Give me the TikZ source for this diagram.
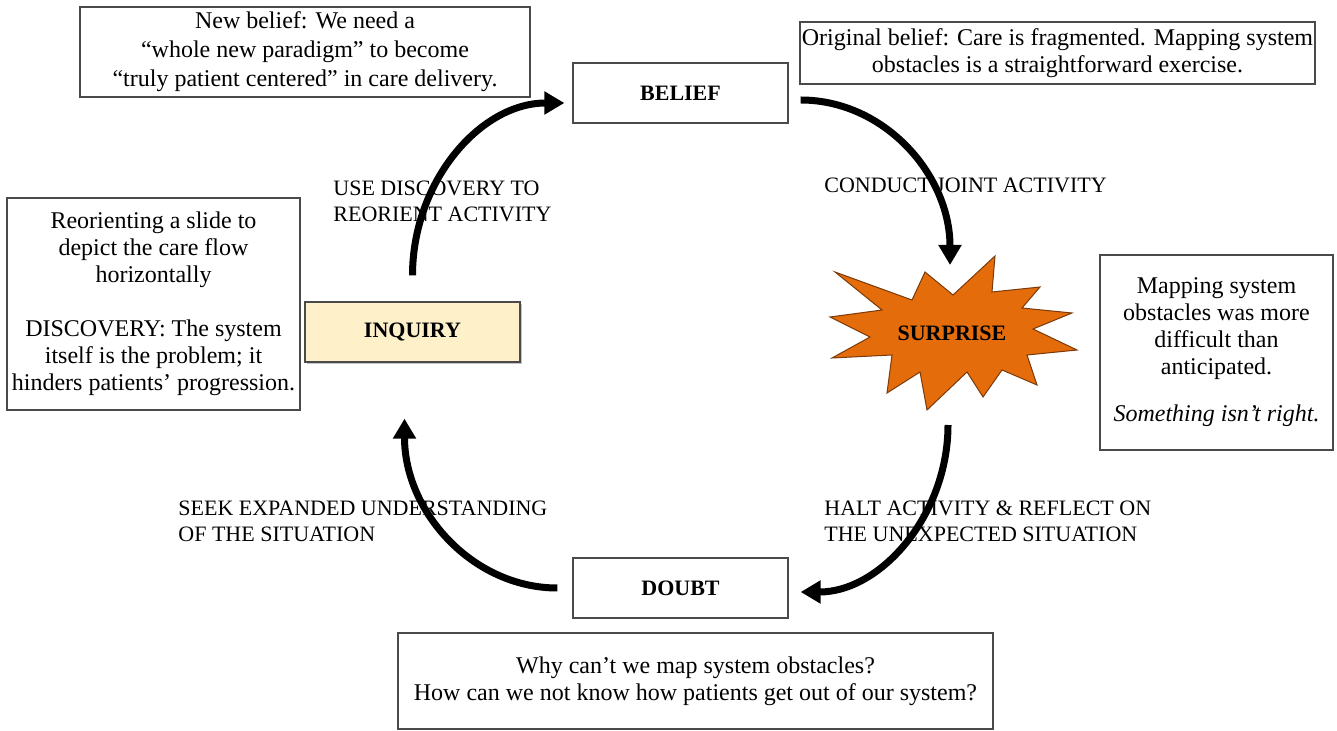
\documentclass[tikz,border=0pt]{standalone}
\usepackage{fontspec}
\setmainfont{Liberation Serif}
\usetikzlibrary{arrows.meta,shadows}
\definecolor{starorange}{HTML}{E46C0A}
\definecolor{starline}{HTML}{7A3A0A}
\definecolor{inqfill}{HTML}{FEF0C9}
\definecolor{boxline}{HTML}{4A4A4A}
\begin{document}
\begin{tikzpicture}[x=0.5pt,y=-0.5pt,
  note/.style={draw=boxline, line width=0.6pt, fill=white, inner sep=0pt,
    align=center, font=\fontsize{12}{13.5}\selectfont},
  stage/.style={draw=boxline, line width=0.6pt, fill=white, minimum width=107.5pt,
    minimum height=30pt, inner sep=0pt, font=\fontsize{11}{13}\selectfont\bfseries},
  steplabel/.style={anchor=west, align=left, inner sep=0pt,
    font=\fontsize{11}{13}\selectfont},
  flow/.style={line width=3.5pt, -{Triangle[length=10pt,width=11pt]}}
]
\useasboundingbox (0,0) rectangle (1337,731);

% explanatory boxes
\node[note, minimum width=225pt, minimum height=45pt, font=\fontsize{12}{14.5}\selectfont] (newbelief) at (305,52)
  {New belief: We need a\\“whole new paradigm” to become\\“truly patient centered” in care delivery.};
\node[note, minimum width=257.5pt, minimum height=31pt] (origbelief) at (1057.5,53)
  {Original belief: Care is fragmented. Mapping system\\obstacles is a straightforward exercise.};
\node[note, minimum width=146.5pt, minimum height=106pt] (discovery) at (153.5,304)
  {Reorienting a slide to\\depict the care flow\\horizontally\\[13.5pt]DISCOVERY: The system\\itself is the problem; it\\hinders patients’ progression.};
\node[note, minimum width=116.5pt, minimum height=97.5pt] (unexpected) at (1216.5,352.5)
  {Mapping system\\obstacles was more\\difficult than\\anticipated.\\[10pt]\textit{Something isn’t right.}};
\node[note, minimum width=297.5pt, minimum height=48pt] (questions) at (695.5,681)
  {Why can’t we map system obstacles?\\How can we not know how patients get out of our system?};

% stages of the cycle
\node[stage] (belief) at (680.5,93) {BELIEF};
\node[stage] (doubt) at (680.5,588) {DOUBT};
\node[stage, fill=inqfill,
  drop shadow={shadow xshift=1pt, shadow yshift=-1pt, fill=black!45}] (inquiry) at (412.5,332) {INQUIRY};

% surprise burst
\filldraw[fill=starorange, draw=starline, line width=0.5pt]
  (835,272) -- (912,300) -- (925,272) -- (953,295) -- (995,256) -- (992,292)
  -- (1040,287) -- (1022,308) -- (1072,313) -- (1033,329) -- (1077,350)
  -- (1027,355) -- (1037,385) -- (1002,370) -- (983,397) -- (967,372)
  -- (927,410) -- (920,372) -- (887,393) -- (892,355) -- (832,358)
  -- (870,337) -- (830,317) -- (882,310) -- cycle;
\node[font=\fontsize{11}{13}\selectfont\bfseries] (surprise) at (952,333) {SURPRISE};

% transition labels
\node[steplabel] (uselabel) at (333,201) {USE DISCOVERY TO\\REORIENT ACTIVITY};
\node[steplabel] (conductlabel) at (824,185) {CONDUCT JOINT ACTIVITY};
\node[steplabel] (seeklabel) at (178,521) {SEEK EXPANDED UNDERSTANDING\\OF THE SITUATION};
\node[steplabel] (haltlabel) at (824,521) {HALT ACTIVITY \& REFLECT ON\\THE UNEXPECTED SITUATION};

% cycle arrows
\draw[flow] ([yshift=13pt]inquiry.north) .. controls +(0,47pt) and +(-42pt,0) ..
  ([xshift=-4pt,yshift=-5pt]belief.west);
\draw[flow] ([xshift=6pt,yshift=-3.5pt]belief.east) .. controls +(42pt,0) and +(0,45pt) ..
  ([xshift=-1pt,yshift=34pt]surprise.center);
\draw[flow] ([xshift=-2pt,yshift=-46pt]surprise.center) .. controls +(0,-45pt) and +(40pt,0) ..
  ([xshift=6pt,yshift=-2pt]doubt.east);
\draw[flow] ([xshift=-7.5pt]doubt.west) .. controls +(-42pt,0) and +(0,-47pt) ..
  ([xshift=-4pt,yshift=-28pt]inquiry.south);
\end{tikzpicture}
\end{document}
